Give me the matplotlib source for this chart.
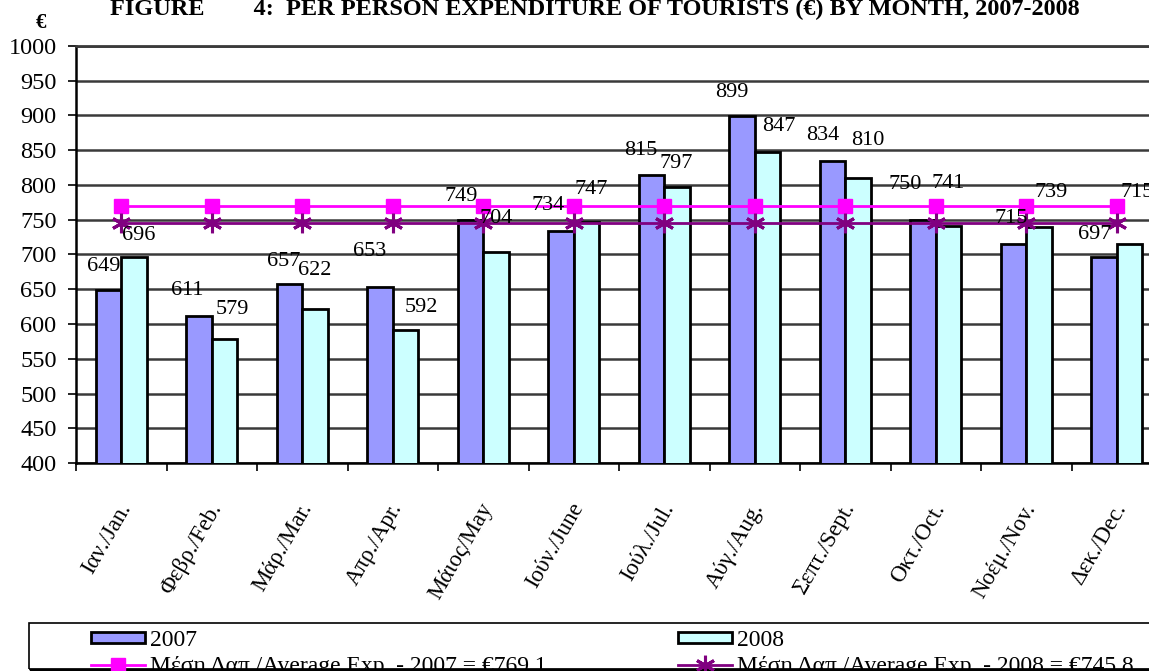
import matplotlib
matplotlib.use("Agg")
import matplotlib.pyplot as plt
import matplotlib.transforms as mtransforms
from matplotlib.patches import Rectangle
import numpy as np

# ---------------- data ----------------
months = ["Ιαν./Jan.", "Φεβρ./Feb.", "Μάρ./Mar.", "Απρ./Apr.", "Μάιος/May", "Ιούν./June",
          "Ιούλ./Jul.", "Αύγ./Aug.", "Σεπτ./Sept.", "Οκτ./Oct.", "Νοέμ./Nov.", "Δεκ./Dec."]
exp_2007 = [649, 611, 657, 653, 749, 734, 815, 899, 834, 750, 715, 697]
exp_2008 = [696, 579, 622, 592, 704, 747, 797, 847, 810, 741, 739, 715]
avg_2007 = 769.1
avg_2008 = 745.8
y_ticks = list(range(400, 1001, 50))

# label offsets (pixels, dx, dy) as placed in the reference
off_2007 = [(-5, 23), (-12, 26), (-6, 23), (-10, 36), (-9, 24), (-13, 25),
            (-11, 24), (-10, 24), (-10, 26), (-18, 35), (-2, 26), (-9, 22)]
off_2008 = [(5, 22), (8, 29), (0, 38), (16, 22), (0, 33), (5, 32),
            (-1, 24), (11, 26), (10, 38), (0, 43), (12, 35), (8, 52)]

FONT = "Liberation Serif"
plt.rcParams["font.family"] = [FONT, "DejaVu Serif"]

W, H = 1149, 671
fig = plt.figure(figsize=(W / 100, H / 100), dpi=100)

def fx(px):
    return px / W

def fy(py):
    return 1 - py / H

# axes geometry in pixels
ax_left, ax_top, ax_bottom = 76, 46, 463
cat_w = 90.5
n = len(months)
ax = fig.add_axes([fx(ax_left), fy(ax_bottom), n * cat_w / W, (ax_bottom - ax_top) / H])

x = np.arange(n)
bw = 0.283
b07 = ax.bar(x - bw / 2, exp_2007, width=bw, color="#9999FF", edgecolor="black", linewidth=2,
             label="2007", zorder=3)
b08 = ax.bar(x + bw / 2, exp_2008, width=bw, color="#CCFFFF", edgecolor="black", linewidth=2,
             label="2008", zorder=3)

l07, = ax.plot(x, [avg_2007] * n, color="#FF00FF", lw=2, marker="s", markersize=9.5,
               markeredgecolor="#FF00FF", zorder=4,
               label="Μέση Δαπ./Average Exp. - 2007 = €769.1")
l08, = ax.plot(x, [avg_2008] * n, color="#800080", lw=2, marker=(6, 2, 0), markersize=14,
               markeredgewidth=2.2, markeredgecolor="#800080", zorder=4,
               label="Μέση Δαπ./Average Exp. - 2008 = €745.8")

for i in range(n):
    ax.annotate(str(exp_2007[i]), (x[i] - bw / 2, exp_2007[i]), xytext=off_2007[i],
                textcoords="offset pixels", ha="center", va="center", fontsize=16,
                clip_on=False, zorder=5)
    ax.annotate(str(exp_2008[i]), (x[i] + bw / 2, exp_2008[i]), xytext=off_2008[i],
                textcoords="offset pixels", ha="center", va="center", fontsize=16,
                clip_on=False, zorder=5)

ax.set_xlim(-0.5, n - 0.5)
ax.set_ylim(400, 1000)
ax.set_yticks(y_ticks)
ax.tick_params(axis="y", labelsize=17.5, length=6, width=1.2, pad=8, direction="out")
ax.yaxis.grid(True, color="#3a3a3a", lw=1.8, zorder=0)
ax.set_axisbelow(True)

ax.set_xticks(x)
ax.set_xticklabels(months, rotation=60, ha="right", va="center", rotation_mode="anchor",
                   fontsize=16.5)
ax.set_xticks(np.arange(-0.5, n, 1), minor=True)
ax.tick_params(axis="x", which="major", length=0, pad=30)
ax.tick_params(axis="x", which="minor", length=6, width=1.2, direction="out")
shift = mtransforms.ScaledTranslation(5 / 100, 0, fig.dpi_scale_trans)
for lab in ax.get_xticklabels():
    lab.set_transform(lab.get_transform() + shift)

for s in ["left", "bottom"]:
    ax.spines[s].set_linewidth(1.8)
    ax.spines[s].set_color("black")
ax.spines["top"].set_linewidth(2)
ax.spines["top"].set_color("#3a3a3a")
ax.spines["right"].set_visible(False)

# title and unit
fig.text(fx(595), fy(15), "FIGURE        4:  PER PERSON EXPENDITURE OF TOURISTS (€) BY MONTH, 2007-2008",
         ha="center", va="baseline", fontsize=17.5, fontweight="bold")
fig.text(fx(41), fy(28), "€", ha="center", va="baseline", fontsize=15, fontweight="bold")

# legend frame
fig.patches.append(Rectangle((fx(29), fy(669)), fx(1160 - 29), (669 - 623) / H,
                             transform=fig.transFigure, fill=False, edgecolor="black", lw=1.2))
fig.lines.append(plt.Line2D([fx(31), fx(1160)], [fy(669.5), fy(669.5)],
                            transform=fig.transFigure, color="black", lw=2.5))

leg_kw = dict(frameon=False, fontsize=17, handlelength=2.3, handleheight=0.3,
              handletextpad=0.2, labelspacing=0.2, borderpad=0, borderaxespad=0,
              loc="upper left")
fig.legend([b07, l07], [b07.get_label(), l07.get_label()],
           bbox_to_anchor=(fx(91), fy(630)), **leg_kw)
fig.legend([b08, l08], [b08.get_label(), l08.get_label()],
           bbox_to_anchor=(fx(678), fy(630)), **leg_kw)

fig.savefig("out.png", dpi=100)
